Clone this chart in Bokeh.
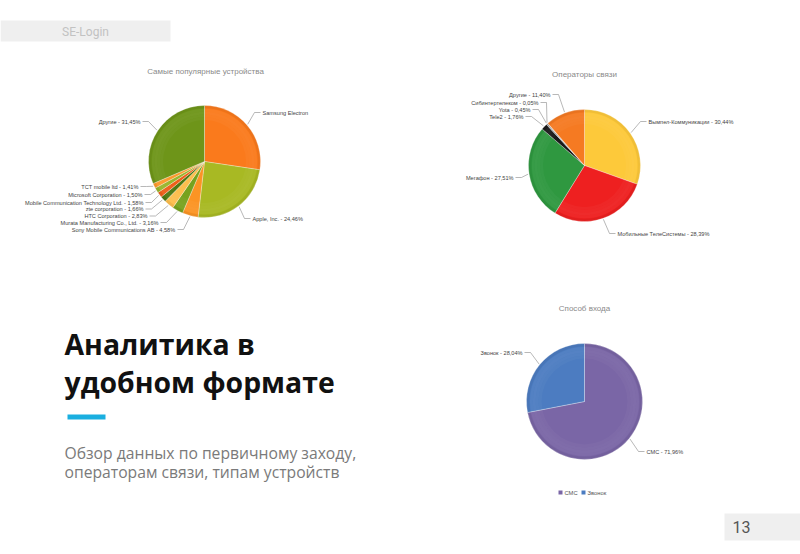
import numpy as np
from bokeh.plotting import figure
from bokeh.models import Range1d
from bokeh.core.properties import value
from bokeh.embed import file_html
from bokeh.resources import INLINE

# ---------------- data ----------------
device_labels = ["Samsung Electron", "Apple, Inc. - 24,46%",
                 "Sony Mobile Communications AB - 4,58%",
                 "Murata Manufacturing Co., Ltd. - 3,16%",
                 "HTC Corporation - 2,83%", "zte corporation - 1,66%",
                 "Mobile Communication Technology Ltd. - 1,58%",
                 "Microsoft Corporation - 1,50%", "TCT mobile ltd - 1,41%",
                 "Другие - 31,45%"]
device_values = [27.37, 24.46, 4.58, 3.16, 2.83, 1.66, 1.58, 1.50, 1.41, 31.45]
device_colors = ["#FA7A1C", "#A8B923", "#FB9424", "#77A21E", "#FDBE4E",
                 "#4E7812", "#EE5F1A", "#98B62C", "#FB9A2C", "#6E9519"]

oper_labels = ["Вымпел-Коммуникации - 30,44%", "Мобильные ТелеСистемы - 28,39%",
               "Мегафон - 27,51%", "Tele2 - 1,76%", "Yota - 0,45%",
               "Сибинтертелеком - 0,05%", "Другие - 11,40%"]
oper_values = [30.44, 28.39, 27.51, 1.76, 0.45, 0.05, 11.40]
oper_colors = ["#FDC93A", "#EE2020", "#2F9840", "#1A1A1A", "#9A9A9A",
               "#CCCCCC", "#F57A22"]

login_names = ["СМС", "Звонок"]
login_labels = ["СМС - 71,96%", "Звонок - 28,04%"]
login_values = [71.96, 28.04]
login_colors = ["#7A66A6", "#4C7CC1"]

titles = ["Самые популярные устройства", "Операторы связи", "Способ входа"]

# ---------------- layout helpers (screen px -> data) ----------------
W, H = 800, 554
def X(px):
    return px
def Y(py):
    return H - py

p = figure(width=W, height=H, output_backend="svg", toolbar_location=None,
           x_range=Range1d(0, W), y_range=Range1d(0, H), min_border=0)
p.axis.visible = False
p.grid.visible = False
p.outline_line_color = None
p.background_fill_color = "white"
p.border_fill_color = "white"

LABEL_FONT = value("Liberation Sans")

def draw_pie(cx, cy, r, values, colors, labels, label_pos, aligns, title, title_pos):
    vals = np.array(values, dtype=float)
    frac = vals / vals.sum()
    cum = np.cumsum(frac)
    prev = np.concatenate([[0.0], cum[:-1]])
    start = np.pi / 2 - 2 * np.pi * prev
    end = np.pi / 2 - 2 * np.pi * cum
    mid = (start + end) / 2
    ccx, ccy = X(cx), Y(cy)
    p.wedge(x=ccx, y=ccy, radius=r, start_angle=list(start), end_angle=list(end),
            direction="clock", fill_color=colors, line_color="white",
            line_width=0.5, line_alpha=0.6)
    # soft 3D-like shading (graded rings)
    for k, a in enumerate([0.03, 0.04, 0.05, 0.04]):
        p.annulus(x=ccx, y=ccy, inner_radius=r * (0.74 + 0.05 * k),
                  outer_radius=r * (0.79 + 0.05 * k),
                  fill_color="white", fill_alpha=a, line_color=None)
    p.annulus(x=ccx, y=ccy, inner_radius=r * 0.95, outer_radius=r,
              fill_color="black", fill_alpha=0.05, line_color=None)
    # connectors + labels
    xs, ys = [], []
    for i, (lp, al) in enumerate(zip(label_pos, aligns)):
        lx, ly = X(lp[0]), Y(lp[1])
        ex = ccx + (r + 1) * np.cos(mid[i])
        ey = ccy + (r + 1) * np.sin(mid[i])
        if al == "right":
            x2 = lx + 2
            x1 = x2 + 6
        else:
            x2 = lx - 2
            x1 = x2 - 6
        xs.append([ex, x1, x2])
        ys.append([ey, ly, ly])
    p.multi_line(xs=xs, ys=ys, line_color="#9a9a9a", line_width=0.7)
    p.text(x=[X(lp[0]) for lp in label_pos], y=[Y(lp[1]) for lp in label_pos],
           text=labels, text_align=aligns, text_baseline="middle",
           text_font=LABEL_FONT, text_font_size=value("5.6px"),
           text_color="#444444")
    p.text(x=[X(title_pos[0])], y=[Y(title_pos[1])], text=[title],
           text_align="center", text_baseline="middle", text_font=LABEL_FONT,
           text_font_size=value("8px"), text_color="#8a8a8a")

# devices pie
draw_pie(204, 161, 56, device_values, device_colors, device_labels,
         [(262, 112), (252, 218), (175, 229), (158, 222), (147, 215.5),
          (143, 208.5), (143, 202), (142, 194), (138, 186), (140, 121)],
         ["left", "left", "right", "right", "right", "right", "right",
          "right", "right", "right"],
         titles[0], (205, 71))

# operators pie
draw_pie(584, 165, 56, oper_values, oper_colors, oper_labels,
         [(648, 121), (617, 233), (513, 177), (523, 116), (530, 109),
          (538, 102), (550, 94)],
         ["left", "left", "right", "right", "right", "right", "right"],
         titles[1], (584, 74))

# login pie
draw_pie(584, 401, 58, login_values, login_colors, login_labels,
         [(646, 451), (522, 352)], ["left", "right"],
         titles[2], (584, 308))

# legend for login pie
leg_sq_x = [560, 583]
leg_tx_x = [564, 587]
p.scatter(x=[X(v) for v in leg_sq_x], y=[Y(492)] * 2, marker="square", size=4,
          fill_color=login_colors, line_color=None)
p.text(x=[X(v) for v in leg_tx_x], y=[Y(492)] * 2, text=login_names,
       text_align="left", text_baseline="middle", text_font=LABEL_FONT,
       text_font_size=value("5.8px"), text_color="#555555")

# ---------------- slide decorations ----------------
p.quad(left=[X(0)], right=[X(170)], top=[Y(20)], bottom=[Y(41)],
       fill_color="#EFEFEF", line_color=None)
p.text(x=[X(85)], y=[Y(31)], text=["SE-Login"], text_align="center",
       text_baseline="middle", text_font=value("Roboto"),
       text_font_size=value("12px"), text_color="#C2C2C2")

p.quad(left=[X(724)], right=[X(800)], top=[Y(513)], bottom=[Y(540)],
       fill_color="#EFEFEF", line_color=None)
p.text(x=[X(732)], y=[Y(526)], text=["13"], text_align="left",
       text_baseline="middle", text_font=value("Roboto"),
       text_font_size=value("16px"), text_color="#555555")

p.text(x=[X(64), X(64)], y=[Y(343), Y(381)],
       text=["Аналитика в", "удобном формате"], text_align="left",
       text_baseline="alphabetic", text_font=value("Open Sans"),
       text_font_style="bold", text_font_size=value("28.4px"),
       text_color="#111111")

p.quad(left=[X(67)], right=[X(105)], top=[Y(414)], bottom=[Y(419)],
       fill_color="#1AAFE0", line_color=None)

p.text(x=[X(64), X(64)], y=[Y(452), Y(471)],
       text=["Обзор данных по первичному заходу,",
             "операторам связи, типам устройств"],
       text_align="left", text_baseline="alphabetic",
       text_font=value("Open Sans"), text_font_size=value("15.7px"),
       text_color="#7a7a7a")

open("out.html", "w").write(file_html(p, INLINE))
